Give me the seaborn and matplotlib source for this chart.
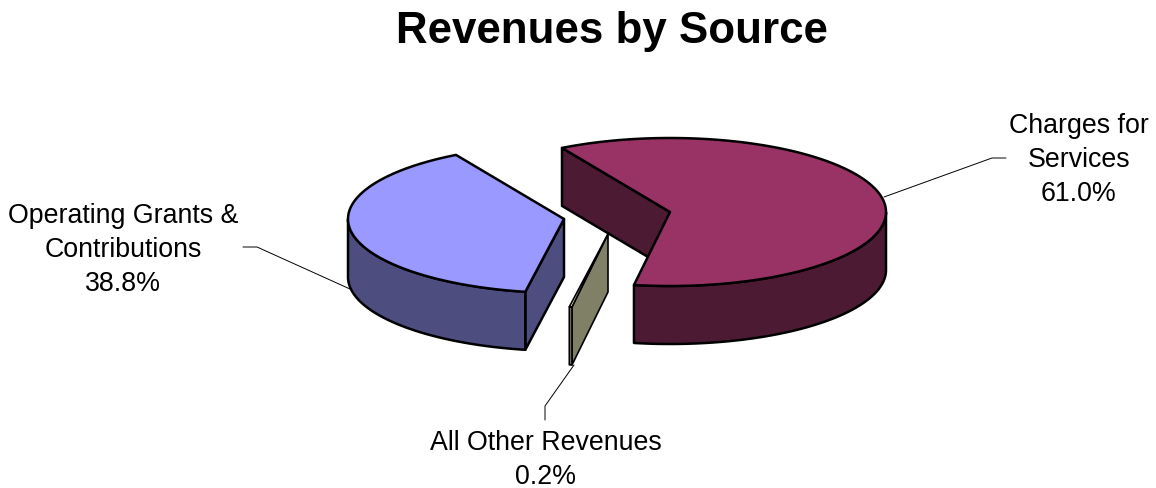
import numpy as np
import matplotlib
matplotlib.use("Agg")
import matplotlib.pyplot as plt
import seaborn as sns

sources = ["Charges for\nServices", "All Other Revenues", "Operating Grants &\nContributions"]
shares = [61.0, 0.2, 38.8]
top_colors = ["#993366", "#ffffcc", "#9999ff"]
side_colors = ["#4d1a33", "#808066", "#4d4d80"]

# pie layout in pixels, the slices are pulled apart so each has its own centre
centers = [(670, 213), (608, 235), (564, 220)]
edge_widths = [1.8, 1.2, 1.8]
label_pos = [(1079, 160), (546, 460), (123, 250)]
leaders = [
    [(884, 198), (992, 159), (1006, 159)],
    [(574, 366), (545, 407), (545, 421)],
    [(350, 290), (257, 248), (243, 248)],
]
rx, ry, depth = 216, 74, 58
start_angle = 120

sns.set_theme(style="white")
plt.rcParams["font.family"] = ["Liberation Sans", "DejaVu Sans"]

fig, ax = plt.subplots(figsize=(11.56, 4.89), dpi=100)
fig.subplots_adjust(0, 0, 1, 1)
ax.set_xlim(0, 1156)
ax.set_ylim(489, 0)
ax.axis("off")


def rim_point(c, t):
    t = np.radians(t)
    return c[0] + rx * np.cos(t), c[1] - ry * np.sin(t)


def draw_slice(c, t0, t1, top, side, lw):
    # t0 > t1, the pie runs clockwise
    edge = dict(edgecolor="black", linewidth=lw, joinstyle="round")
    for t, sign in [(t0, -1), (t1, 1)]:
        if np.cos(np.radians(t)) * sign > 0:
            x, y = rim_point(c, t)
            ax.fill([c[0], x, x, c[0]], [c[1], y, y + depth, c[1] + depth], facecolor=side, **edge)

    # front wall, only the part with the lower half of the ellipse
    ts = np.linspace(t0, t1, 200)
    ts = ts[np.sin(np.radians(ts)) <= 0]
    if len(ts) > 1:
        x, y = rim_point(c, ts)
        ax.fill(np.r_[x, x[::-1]], np.r_[y, y[::-1] + depth], facecolor=side, **edge)

    ts = np.linspace(t0, t1, 200)
    x, y = rim_point(c, ts)
    ax.fill(np.r_[c[0], x], np.r_[c[1], y], facecolor=top, **edge)


angles = start_angle - np.r_[0, np.cumsum(shares)] * 3.6
# back to front so the big slice sits over the thin one
for i in [2, 1, 0]:
    draw_slice(centers[i], angles[i], angles[i + 1], top_colors[i], side_colors[i], edge_widths[i])

for i in range(3):
    px, py = zip(*leaders[i])
    ax.plot(px, py, color="black", lw=0.7)
    ax.text(label_pos[i][0], label_pos[i][1], f"{sources[i]}\n{shares[i]:.1f}%",
            ha="center", va="center", fontsize=19.3, color="black", linespacing=1.39)

ax.text(612, 31, "Revenues by Source", ha="center", va="center",
        fontsize=31.6, fontweight="bold", color="black")

fig.savefig("out.png", dpi=100)
